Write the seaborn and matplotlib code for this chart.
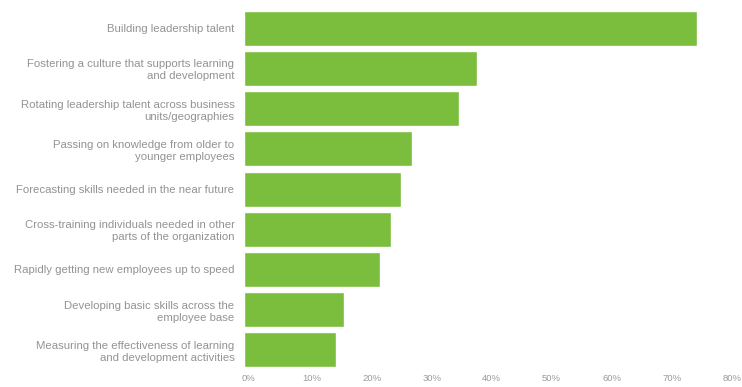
import matplotlib
matplotlib.use("Agg")
import matplotlib.pyplot as plt
import matplotlib.transforms as mtransforms
import seaborn as sns
import pandas as pd

categories = [
    "Building leadership talent",
    "Fostering a culture that supports learning\nand development",
    "Rotating leadership talent across business\nunits/geographies",
    "Passing on knowledge from older to\nyounger employees",
    "Forecasting skills needed in the near future",
    "Cross-training individuals needed in other\nparts of the organization",
    "Rapidly getting new employees up to speed",
    "Developing basic skills across the\nemployee base",
    "Measuring the effectiveness of learning\nand development activities",
]
values = [75.4, 38.8, 35.8, 27.9, 26.1, 24.4, 22.7, 16.7, 15.3]
tick_values = [0, 10, 20, 30, 40, 50, 60, 70, 80]
tick_labels = ["0%", "10%", "20%", "30%", "40%", "50%", "60%", "70%", "80%"]

sns.set_theme(style="white")
plt.rcParams["font.family"] = ["Liberation Sans", "DejaVu Sans"]

df = pd.DataFrame({"cat": categories, "val": values})

fig = plt.figure(figsize=(7.42, 3.87), dpi=100)
ax = fig.add_axes([0.329, 0.044, 0.647, 0.935])
sns.barplot(data=df, x="val", y="cat", color="#7bbd3c", saturation=1,
            width=0.87, ax=ax, orient="h")

ax.set_xlim(0, 80)
ax.set_xticks(tick_values)
ax.set_xticklabels(tick_labels, ha="left")
ax.set_xlabel("")
ax.set_ylabel("")
for s in ax.spines.values():
    s.set_visible(False)
ax.tick_params(axis="x", length=0, pad=3, labelsize=6.8, colors="#9a9a9a")
ax.tick_params(axis="y", length=0, pad=7, labelsize=8.2, colors="#939393")
offset = mtransforms.ScaledTranslation(-2 / 100, 0, fig.dpi_scale_trans)
for lbl in ax.get_xticklabels():
    lbl.set_transform(lbl.get_transform() + offset)
for lbl in ax.get_yticklabels():
    lbl.set_multialignment("right")
    lbl.set_linespacing(1.25)

fig.savefig("out.png", dpi=100, facecolor="white")
